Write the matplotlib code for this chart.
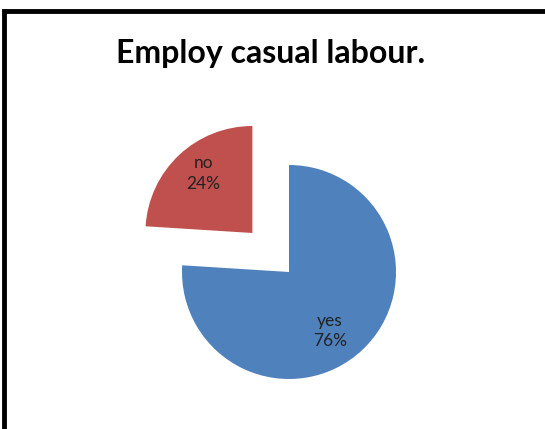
import matplotlib
matplotlib.use("Agg")
from matplotlib import pyplot as plt
from matplotlib.lines import Line2D

title = "Employ casual labour."
labels = ["yes", "no"]
shares = [76, 24]
colors = ["#4F81BD", "#C0504D"]
explode = [0, 0.5]

plt.rcParams['font.family'] = ['Lato', 'DejaVu Sans']

fig = plt.figure(figsize=(5.45, 4.29), dpi=100)
fig.patch.set_facecolor("white")

# frame around the chart area: only left and top edges are on the canvas
fx, fy = 4 / 545, 1 - 11 / 429
fig.add_artist(Line2D([fx, fx], [0, fy], transform=fig.transFigure,
                      color="black", linewidth=3.5, solid_capstyle="projecting"))
fig.add_artist(Line2D([fx, 1], [fy, fy], transform=fig.transFigure,
                      color="black", linewidth=3.5, solid_capstyle="butt"))

fig.text(271 / 545, 1 - 54 / 429, title, ha="center", va="center",
         fontsize=23, fontweight="bold", color="black")

# square axes centred on the pie, 1 data unit = 107 px
size = 321
cx, cy = 289, 429 - 272
ax = fig.add_axes([(cx - size / 2) / 545, (cy - size / 2) / 429,
                   size / 545, size / 429])
wedges, _ = ax.pie(shares, colors=colors, explode=explode, startangle=90,
                   counterclock=False, radius=1,
                   wedgeprops=dict(linewidth=0))
ax.set_xlim(-1.5, 1.5)
ax.set_ylim(-1.5, 1.5)
ax.axis("off")

label_pos = [(0.38, -0.55), (-0.80, 0.92)]
for lab, val, (x, y) in zip(labels, shares, label_pos):
    ax.text(x, y, f"{lab}\n{val}%", ha="center", va="center",
            fontsize=12.5, color="#222222", linespacing=1.35)

fig.savefig("out.png", dpi=100)
